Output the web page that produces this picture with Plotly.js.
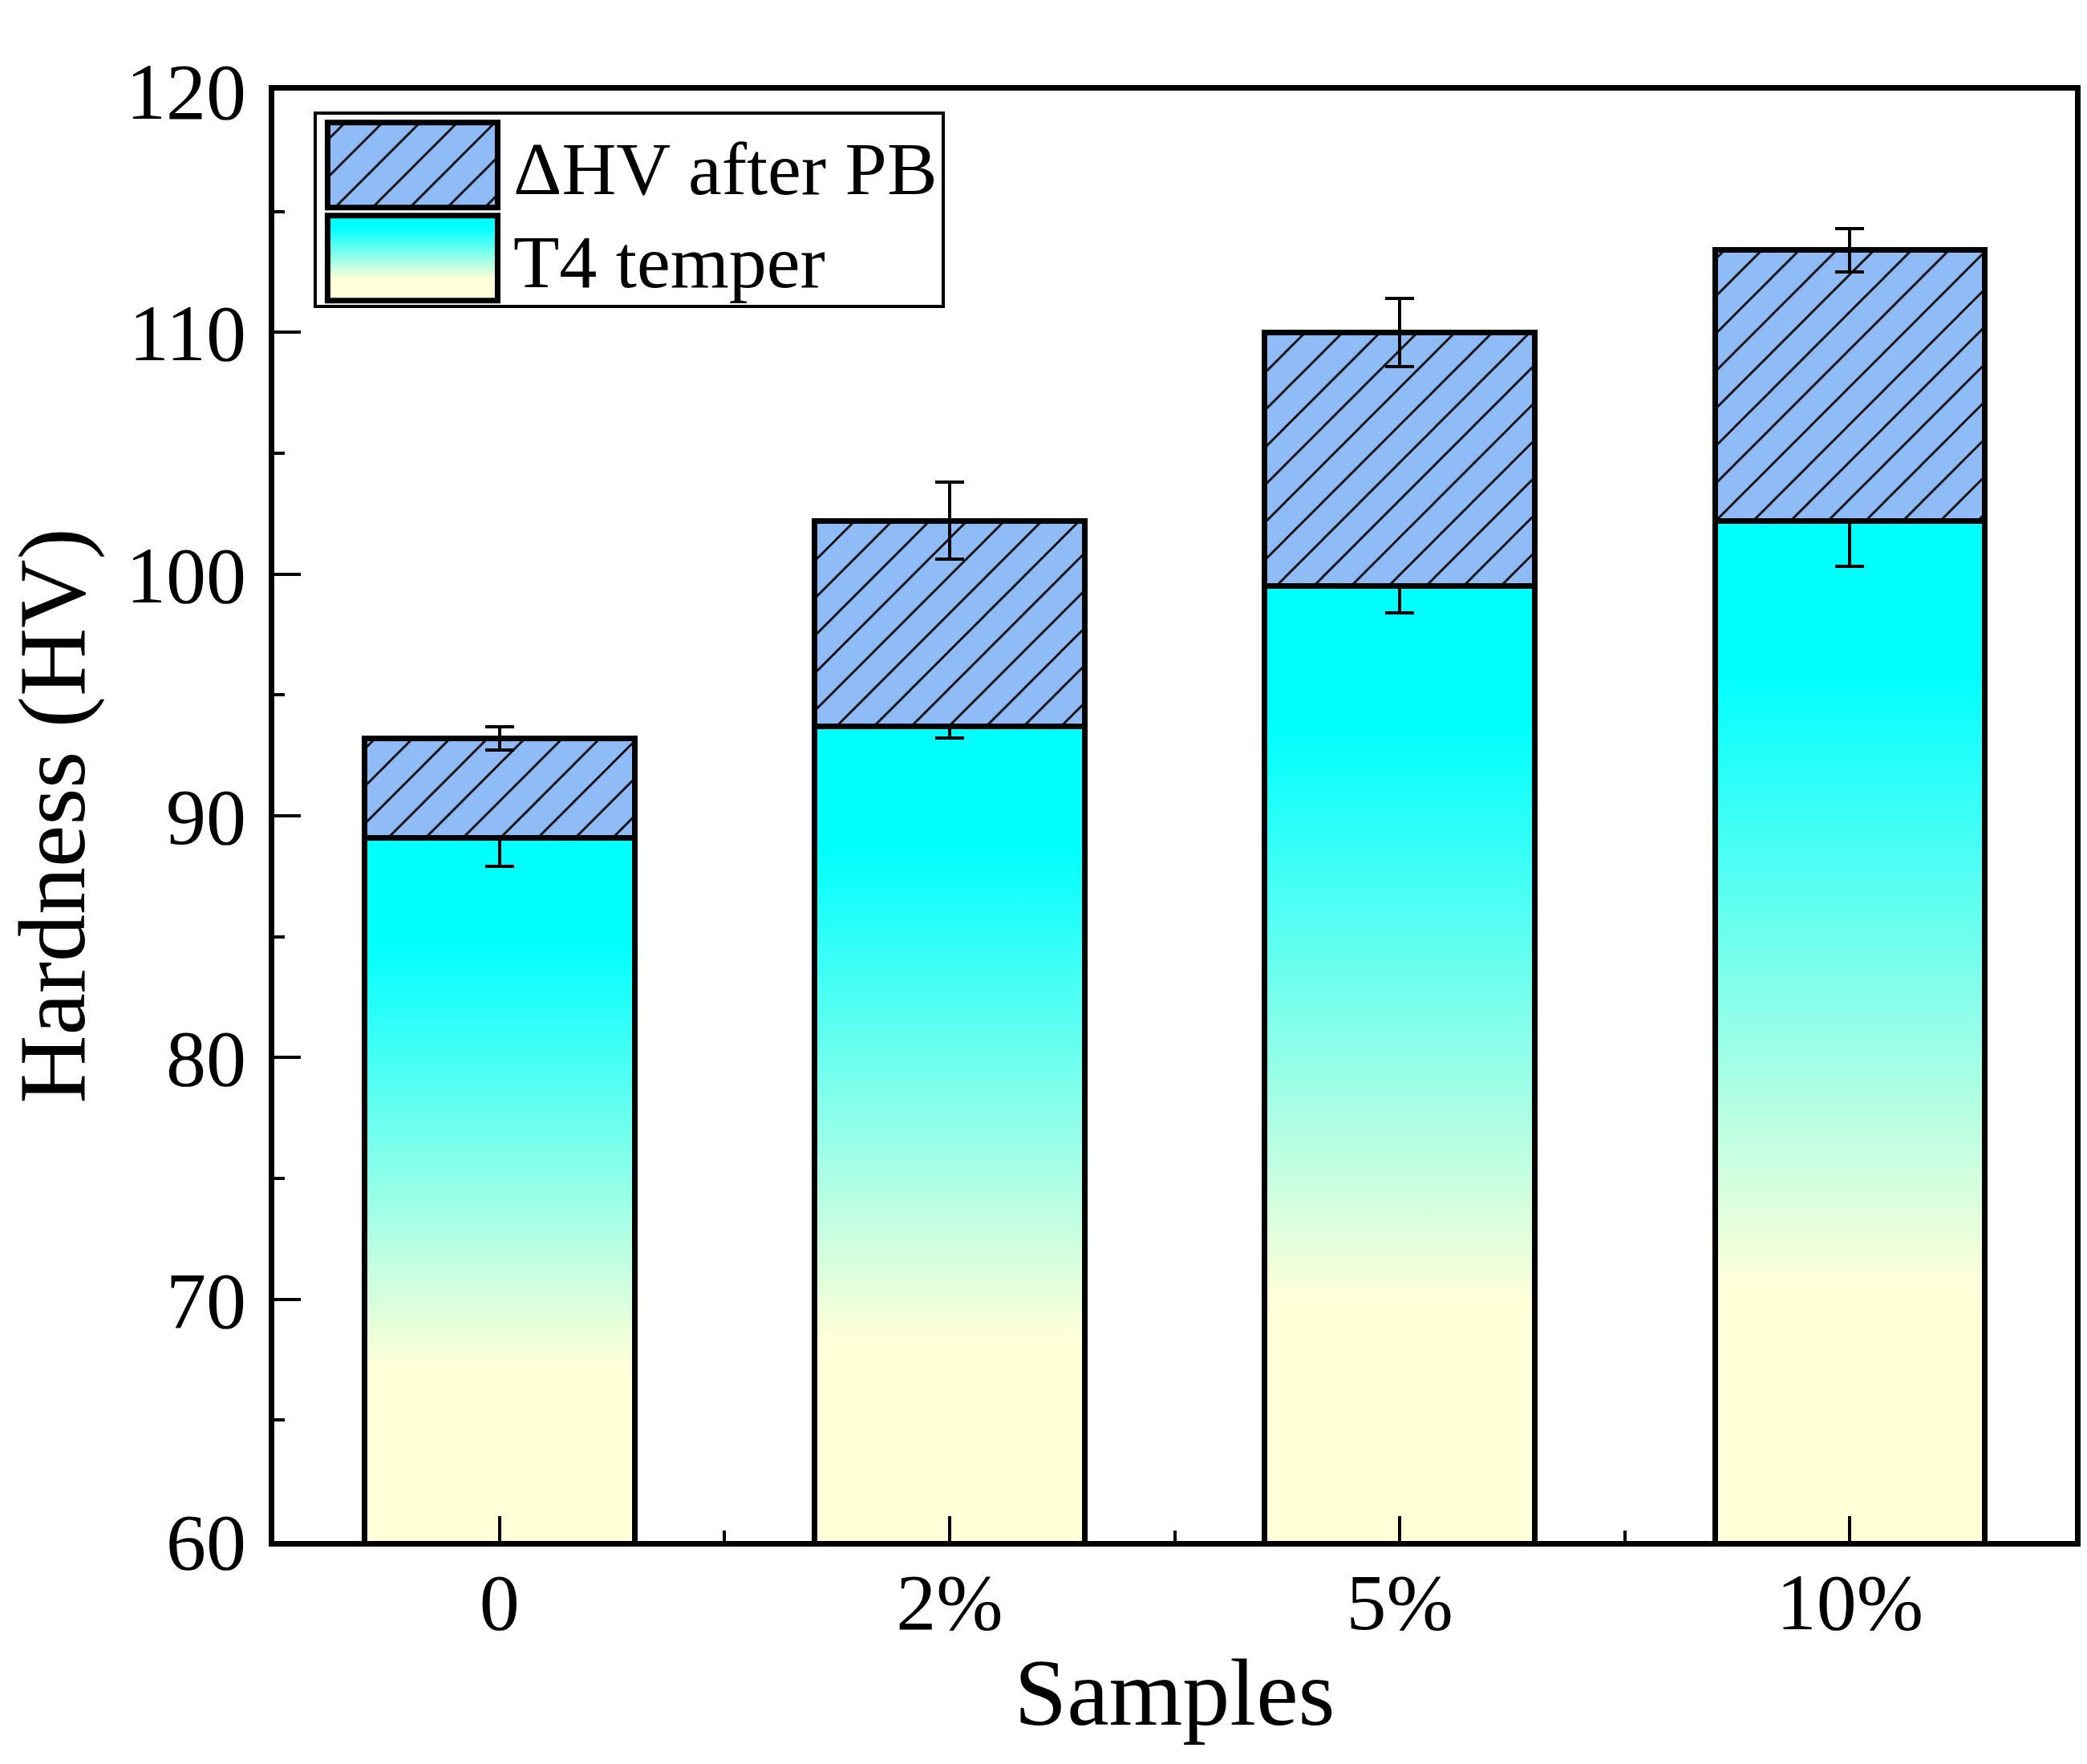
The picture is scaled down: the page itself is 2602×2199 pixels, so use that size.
<!DOCTYPE html>
<html>
<head>
<meta charset="utf-8">
<script src="https://cdn.plot.ly/plotly-3.0.1.min.js"></script>
<style>
  html, body { margin: 0; padding: 0; background: #fff; }
  #chart { width: 2602px; height: 2199px; }
</style>
</head>
<body>
<div id="chart"></div>
<script>
// values
var categories = ['0', '2%', '5%', '10%'];
var t4Hardness = [89.1, 93.7, 99.5, 102.2];
var t4Err = [1.2, 0.48, 1.1, 1.88];
var deltaHV = [4.1, 8.5, 10.5, 11.2];
var deltaErr = [0.49, 1.59, 1.41, 0.89];
var yTicks = [60, 70, 80, 90, 100, 110, 120];

var xPos = categories.map(function (c, i) { return i; });
var serif = 'Liberation Serif, Times New Roman, serif';
var hatchBlue = '#8fbcf6';

var t4 = {
  type: 'bar',
  name: 'T4 temper',
  x: xPos,
  y: t4Hardness,
  width: 0.6,
  marker: { color: '#00ffff', line: { color: '#000', width: 7 } },
  error_y: { type: 'data', array: t4Err, color: '#000', thickness: 4, width: 18 }
};

var delta = {
  type: 'bar',
  name: '\u0394HV after PB',
  x: xPos,
  y: deltaHV,
  width: 0.6,
  marker: {
    color: hatchBlue,
    line: { color: '#000', width: 7 },
    pattern: { shape: '/', fgcolor: '#000', bgcolor: hatchBlue, size: 33, solidity: 0.08 }
  },
  error_y: { type: 'data', array: deltaErr, color: '#000', thickness: 4, width: 18 }
};

var layout = {
  width: 2602,
  height: 2199,
  barmode: 'stack',
  paper_bgcolor: '#fff',
  plot_bgcolor: '#fff',
  margin: { l: 342, r: 15, t: 113, b: 278 },
  font: { family: serif, color: '#000', size: 100 },
  xaxis: {
    range: [-0.5, 3.5],
    tickmode: 'array',
    tickvals: xPos,
    ticktext: categories,
    ticks: 'inside',
    ticklen: 31,
    tickwidth: 4,
    tickcolor: '#000',
    tickfont: { family: serif, size: 100 },
    ticklabelstandoff: -17,
    minor: { tickmode: 'array', tickvals: [0.5, 1.5, 2.5], ticks: 'inside', ticklen: 13, tickwidth: 4, tickcolor: '#000' },
    showline: true,
    linecolor: '#000',
    linewidth: 7,
    mirror: true,
    showgrid: false,
    zeroline: false,
    automargin: true,
    title: { text: 'Samples', font: { family: serif, size: 118 }, standoff: 18 }
  },
  yaxis: {
    range: [60, 120],
    tickmode: 'array',
    tickvals: yTicks,
    ticks: 'inside',
    ticklen: 33,
    tickwidth: 4,
    tickcolor: '#000',
    tickfont: { family: serif, size: 100 },
    ticklabelstandoff: 8,
    minor: { dtick: 5, ticks: 'inside', ticklen: 13, tickwidth: 4, tickcolor: '#000' },
    showline: true,
    linecolor: '#000',
    linewidth: 7,
    mirror: true,
    showgrid: false,
    zeroline: false,
    title: { text: 'Hardness (HV)', font: { family: serif, size: 118 }, standoff: 48 }
  },
  showlegend: true,
  legend: {
    x: 0.0218,
    y: 0.9856,
    xanchor: 'left',
    yanchor: 'top',
    bgcolor: '#fff',
    bordercolor: '#000',
    borderwidth: 4,
    itemwidth: 235,
    font: { family: serif, size: 94, color: '#000' },
    traceorder: 'reversed'
  }
};

var gradStops = [[0, '#00ffff'], [0.15, '#00ffff'], [0.75, '#ffffd8'], [1, '#ffffd8']];

function makeGradient(defs, id, attrs) {
  var ns = 'http://www.w3.org/2000/svg';
  var g = document.createElementNS(ns, 'linearGradient');
  g.setAttribute('id', id);
  Object.keys(attrs).forEach(function (k) { g.setAttribute(k, attrs[k]); });
  gradStops.forEach(function (s) {
    var st = document.createElementNS(ns, 'stop');
    st.setAttribute('offset', s[0]);
    st.setAttribute('stop-color', s[1]);
    g.appendChild(st);
  });
  defs.appendChild(g);
}

function translateY(el) {
  var m = /translate\(\s*([-\d.]+)[ ,]+([-\d.]+)/.exec(el.getAttribute('transform') || '');
  return m ? [parseFloat(m[1]), parseFloat(m[2])] : [0, 0];
}

var gd = document.getElementById('chart');
Plotly.newPlot(gd, [t4, delta], layout, { displayModeBar: false }).then(function () {
  var defs = gd.querySelector('.main-svg defs');
  var ya = gd._fullLayout.yaxis;
  var yBottom = ya.l2p(ya.range[0]);

  // T4 bars: gradient from each bar top down to the axis floor
  var traces = gd.querySelectorAll('.barlayer .trace');
  traces[0].querySelectorAll('.point path').forEach(function (p, i) {
    var id = 't4grad' + i;
    makeGradient(defs, id, {
      gradientUnits: 'userSpaceOnUse', x1: 0, x2: 0,
      y1: ya.l2p(t4Hardness[i]), y2: yBottom
    });
    p.style.fill = 'url(#' + id + ')';
  });
  makeGradient(defs, 't4gradLegend', { x1: 0, y1: 0, x2: 0, y2: 1 });

  // error bars drawn over all bars
  var layer = gd.querySelector('.barlayer');
  gd.querySelectorAll('.barlayer .errorbars').forEach(function (e) { layer.appendChild(e); });

  // hatch fill used on the bars, reused in the legend
  var hatchFill = traces[1].querySelector('.point path').style.fill;

  // bigger legend swatches, tighter rows
  var items = Array.prototype.slice.call(gd.querySelectorAll('.legend .traces'));
  items.sort(function (a, b) { return translateY(a)[1] - translateY(b)[1]; });
  var first = translateY(items[0]);
  items.forEach(function (t, i) {
    var p = t.querySelector('.legendpoints path');
    if (p) {
      p.setAttribute('d', 'M-109,-53H103V53H-109Z');
      p.style.strokeWidth = '7px';
      if (t.textContent.indexOf('T4') >= 0) p.style.fill = 'url(#t4gradLegend)';
      else p.style.fill = hatchFill;
    }
    t.setAttribute('transform', 'translate(' + first[0] + ',' + (first[1] - 5 + i * 116) + ')');
  });
  var bg = gd.querySelector('.legend rect.bg');
  if (bg) bg.setAttribute('height', 241);
});
</script>
</body>
</html>
